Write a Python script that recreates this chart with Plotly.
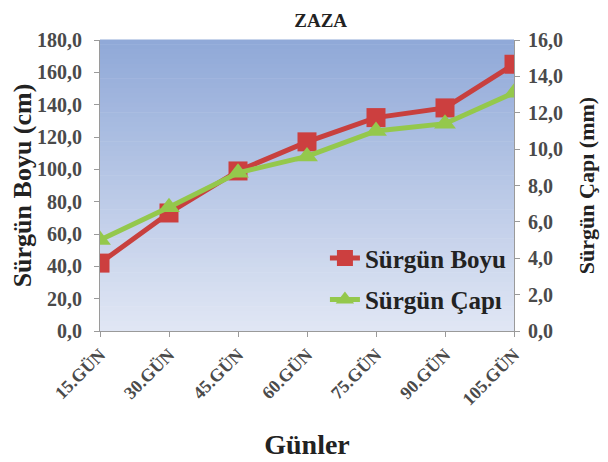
import plotly.graph_objects as go

categories = ["15.GÜN", "30.GÜN", "45.GÜN", "60.GÜN", "75.GÜN", "90.GÜN", "105.GÜN"]
boyu = [42.0, 73.0, 99.0, 117.0, 132.0, 138.0, 165.0]
capi = [5.0, 6.8, 8.7, 9.6, 11.0, 11.4, 13.1]
left_ticks = [0, 20, 40, 60, 80, 100, 120, 140, 160, 180]
left_labels = ["0,0", "20,0", "40,0", "60,0", "80,0", "100,0", "120,0", "140,0", "160,0", "180,0"]
right_ticks = [0, 2, 4, 6, 8, 10, 12, 14, 16]
right_labels = ["0,0", "2,0", "4,0", "6,0", "8,0", "10,0", "12,0", "14,0", "16,0"]

serif = "Liberation Serif, Times New Roman, serif"
tickfont = dict(family=serif, size=20, color="#4a4a4a", weight="bold")

fig = go.Figure()
fig.add_trace(go.Scatter(x=list(range(len(categories))), y=boyu, name="Sürgün Boyu",
                         legendgroup="a",
                         mode="lines+markers", line=dict(color="#c8403e", width=5),
                         marker=dict(symbol="square", size=19, color="#cc3f3f"), yaxis="y"))
fig.add_trace(go.Scatter(x=list(range(len(categories))), y=capi, name="Sürgün Çapı",
                         legendgroup="b",
                         mode="lines+markers", line=dict(color="#94c84c", width=5),
                         marker=dict(symbol="triangle-up", size=19, color="#94c84c"), yaxis="y2"))

# gradient background stripes
n = 60
top = (0x90, 0xa9, 0xd8)
bot = (0xe0, 0xe6, 0xf4)
shapes = []
for i in range(n):
    t = i / (n - 1)
    c = tuple(int(round(top[k] + (bot[k] - top[k]) * t)) for k in range(3))
    shapes.append(dict(type="rect", xref="x domain", yref="y domain", x0=0, x1=1,
                       y0=1 - (i + 1) / n, y1=1 - i / n + 0.002, line=dict(width=0),
                       fillcolor="rgb(%d,%d,%d)" % c, layer="below"))

fig.update_layout(
    width=608, height=462,
    margin=dict(l=92, r=102, t=32, b=139, autoexpand=False),
    paper_bgcolor="white", plot_bgcolor="white",
    shapes=shapes,
    title=dict(text="<b>ZAZA</b>", x=0.533, xanchor="center", xref="paper", y=0.974, yanchor="middle",
               font=dict(family=serif, size=19, color="#222")),
    xaxis=dict(range=[0, 6], tickmode="array", tickvals=list(range(len(categories))),
               ticktext=categories, tickangle=-45, showgrid=False, zeroline=False, automargin=False,
               showline=True, linecolor="#9a9a9a", ticks="outside", ticklen=5, tickcolor="#9a9a9a",
               tickfont=dict(family=serif, size=18, color="#4a4a4a", weight="bold"),
               title=dict(text="<b>Günler</b>", font=dict(family=serif, size=28, color="#222"), standoff=26)),
    yaxis=dict(range=[0, 180], tickmode="array", tickvals=left_ticks, ticktext=left_labels,
               showgrid=False, zeroline=False, showline=True, linecolor="#9a9a9a", automargin=True,
               ticks="outside", ticklen=5, tickcolor="#9a9a9a", ticklabelstandoff=8,
               tickfont=tickfont,
               title=dict(text="<b>Sürgün Boyu (cm)</b>", font=dict(family=serif, size=26, color="#222"), standoff=3)),
    yaxis2=dict(range=[0, 16], overlaying="y", side="right", tickmode="array", automargin=True,
                tickvals=right_ticks, ticktext=right_labels, showgrid=False, zeroline=False,
                showline=True, linecolor="#9a9a9a", ticks="outside", ticklen=5, tickcolor="#9a9a9a",
                ticklabelstandoff=4,
                tickfont=tickfont,
                title=dict(text="<b>Sürgün Çapı (mm)</b>", font=dict(family=serif, size=22, color="#222"), standoff=16)),
    legend=dict(x=0.995, xanchor="right", y=0.03, yanchor="bottom", bgcolor="rgba(0,0,0,0)",
                font=dict(family=serif, size=25, color="#222", weight="bold"), tracegroupgap=6),
    showlegend=True,
)
fig.write_html("out.html")
